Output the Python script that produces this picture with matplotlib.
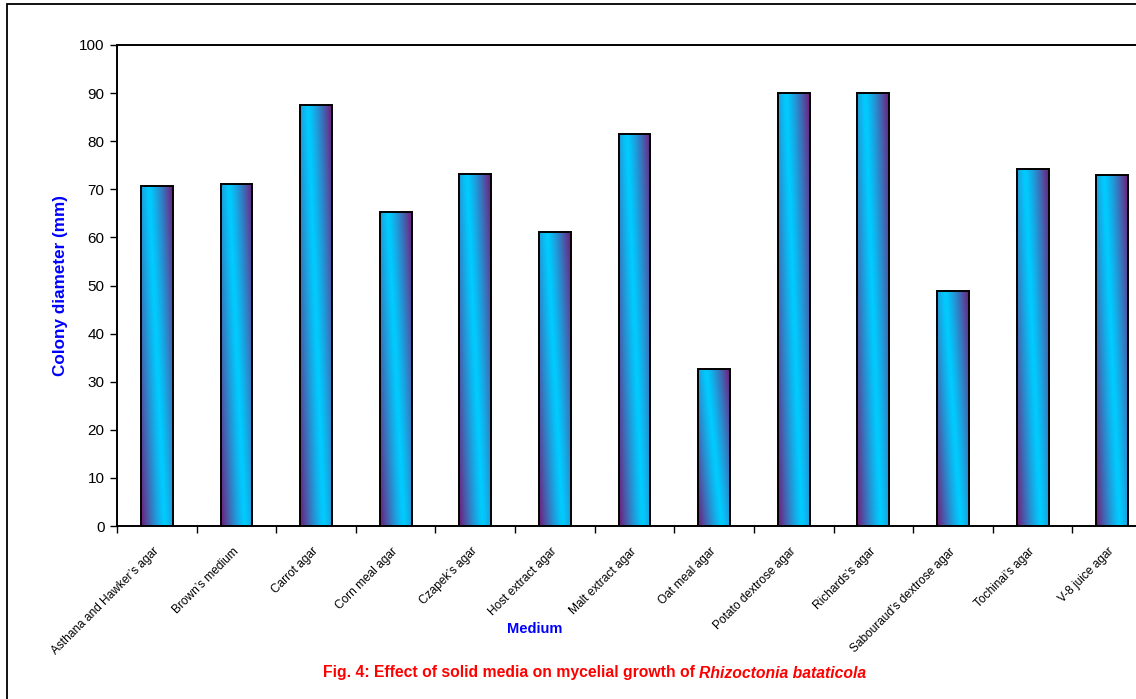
import numpy as np
import matplotlib
matplotlib.use("Agg")
import matplotlib.pyplot as plt
from matplotlib.patches import Rectangle
import matplotlib.transforms as mtransforms

media = ["Asthana and Hawker\u2019s agar", "Brown\u2019s medium", "Carrot agar", "Corn meal agar",
         "Czapek\u2019s agar", "Host extract agar", "Malt extract agar", "Oat meal agar",
         "Potato dextrose agar", "Richards\u2019s agar", "Sabouraud\u2019s dextrose agar",
         "Tochinai\u2019s agar", "V-8 juice agar"]
diameter = [70.7, 71.0, 87.6, 65.3, 73.1, 61.2, 81.5, 32.6, 90.0, 90.0, 48.9, 74.2, 73.0]
yticks = [0, 10, 20, 30, 40, 50, 60, 70, 80, 90, 100]

plt.rcParams['font.family'] = ['Liberation Sans', 'DejaVu Sans']

W, H = 1136, 699
fig = plt.figure(figsize=(W / 100, H / 100), dpi=100)

# outer frame (cropped on right/bottom)
fig.patches.append(Rectangle((7 / W, -0.05), 1.2, 1 - 4 / H + 0.05, transform=fig.transFigure,
                             fill=False, edgecolor='black', linewidth=1.3))

left, right, top, bottom = 117, 1152, 45, 526
ax = fig.add_axes([left / W, 1 - bottom / H, (right - left) / W, (bottom - top) / H])

x = np.arange(len(media))
bars = ax.bar(x, diameter, width=0.4, facecolor='none', edgecolor='black', linewidth=1.4, zorder=3)

# diagonal gradient fill: cyan band running diagonally, purple toward top-right / bottom-left
cyan = np.array([0, 204, 255]) / 255
purple = np.array([115, 25, 120]) / 255
nu, nv = 60, 300
u = np.linspace(0, 1, nu)
v = np.linspace(0, 1, nv)
U, V = np.meshgrid(u, v)
center = 0.25 + 0.5 * (1 - V)
d = np.abs(U - center) / 0.75
t = np.clip(d, 0, 1) ** 1.25
img = cyan[None, None, :] * (1 - t[..., None]) + purple[None, None, :] * t[..., None]
for b in bars:
    bx, by, bw, bh = b.get_x(), b.get_y(), b.get_width(), b.get_height()
    im = ax.imshow(img, extent=[bx, bx + bw, by, by + bh], origin='lower', aspect='auto',
                   zorder=2, interpolation='bilinear')
    im.set_clip_path(b)

ax.set_xlim(-0.5, len(media) - 0.5)
ax.set_ylim(0, 100)
ax.set_yticks(yticks)
ax.set_yticklabels([str(v) for v in yticks], fontsize=11)
ax.set_xticks(x)
ax.set_xticklabels(media, rotation=45, ha='right', va='top', rotation_mode='anchor', fontsize=8.6)
ax.set_xticks(np.arange(-0.5, len(media) + 0.5, 1), minor=True)
ax.tick_params(axis='x', which='major', length=0, pad=14)
ax.tick_params(axis='x', which='minor', length=5, width=1, direction='out')
ax.tick_params(axis='y', length=5, width=1, direction='out', pad=4)
offset = mtransforms.ScaledTranslation(-4 / 100, 0, fig.dpi_scale_trans)
for tk in ax.xaxis.get_major_ticks():
    tk.label1.set_transform(tk.label1.get_transform() + offset)
for sp in ax.spines.values():
    sp.set_linewidth(1.4)

ax.set_ylabel("Colony diameter (mm)", color='#0000FF', fontweight='bold', fontsize=12.3, labelpad=8)
fig.text(535 / W, 1 - 629 / H, "Medium", color='#0000FF', fontweight='bold', fontsize=10.5,
         ha='center', va='center')

# caption with italic species name
fig.canvas.draw()
r = fig.canvas.get_renderer()
t1 = fig.text(323 / W, 1 - 673 / H, "Fig. 4: Effect of solid media on mycelial growth of ",
              color='#FF0000', fontweight='bold', fontsize=11.3, ha='left', va='center')
bb = t1.get_window_extent(renderer=r)
fig.text(bb.x1 / W, 1 - 673 / H, "Rhizoctonia bataticola", color='#FF0000', fontweight='bold',
         fontstyle='italic', fontsize=11.3, ha='left', va='center')

fig.savefig("out.png", dpi=100)
